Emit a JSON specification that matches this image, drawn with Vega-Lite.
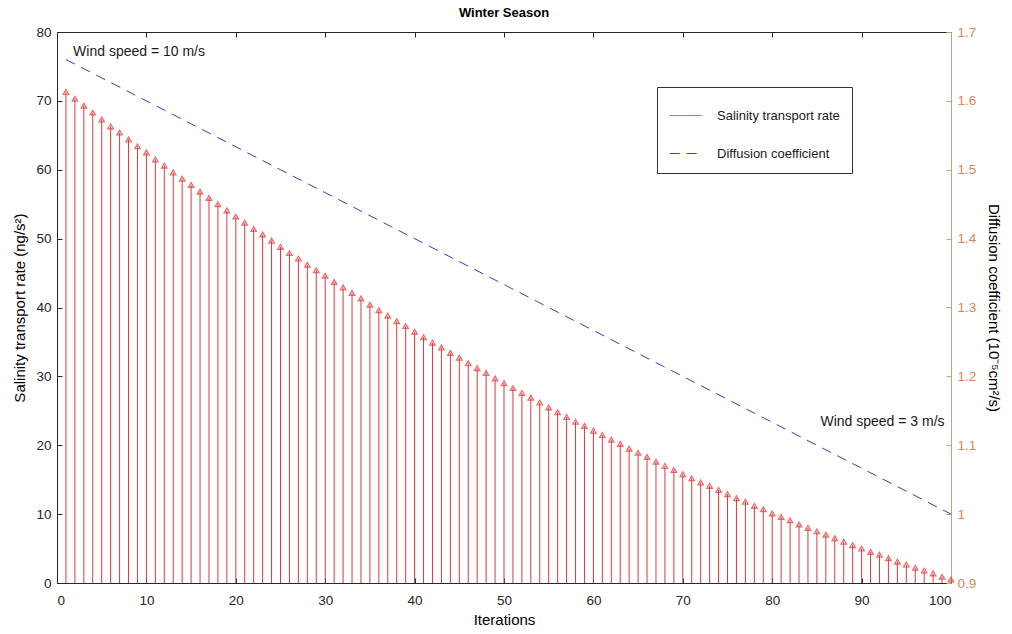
{
  "$schema": "https://vega.github.io/schema/vega-lite/v6.json",
  "width": 894,
  "height": 551,
  "autosize": "none",
  "padding": {"left": 57, "top": 32, "right": 61, "bottom": 51},
  "background": "white",
  "config": {
    "font": "Liberation Sans",
    "view": {"stroke": "#262626", "strokeWidth": 1},
    "axis": {"grid": false, "labelFontSize": 13.5, "titleFontSize": 15, "titleFontWeight": "normal", "labelColor": "#262626", "titleColor": "#000000", "domainColor": "#262626", "tickColor": "#262626", "tickSize": -5, "labelPadding": 11}
  },
  "title": {"text": "Winter Season", "fontSize": 13, "fontWeight": "bold", "color": "#000000", "offset": 5, "font": "Liberation Sans"},
  "datasets": {
    "stems": [
      {"it":1,"v":71.3,"series":"Salinity transport rate"},{"it":2,"v":70.3,"series":"Salinity transport rate"},{"it":3,"v":69.3,"series":"Salinity transport rate"},{"it":4,"v":68.3,"series":"Salinity transport rate"},{"it":5,"v":67.3,"series":"Salinity transport rate"},
      {"it":6,"v":66.3,"series":"Salinity transport rate"},{"it":7,"v":65.4,"series":"Salinity transport rate"},{"it":8,"v":64.4,"series":"Salinity transport rate"},{"it":9,"v":63.4,"series":"Salinity transport rate"},{"it":10,"v":62.5,"series":"Salinity transport rate"},
      {"it":11,"v":61.5,"series":"Salinity transport rate"},{"it":12,"v":60.6,"series":"Salinity transport rate"},{"it":13,"v":59.6,"series":"Salinity transport rate"},{"it":14,"v":58.7,"series":"Salinity transport rate"},{"it":15,"v":57.8,"series":"Salinity transport rate"},
      {"it":16,"v":56.8,"series":"Salinity transport rate"},{"it":17,"v":55.9,"series":"Salinity transport rate"},{"it":18,"v":55.0,"series":"Salinity transport rate"},{"it":19,"v":54.1,"series":"Salinity transport rate"},{"it":20,"v":53.2,"series":"Salinity transport rate"},
      {"it":21,"v":52.3,"series":"Salinity transport rate"},{"it":22,"v":51.4,"series":"Salinity transport rate"},{"it":23,"v":50.6,"series":"Salinity transport rate"},{"it":24,"v":49.7,"series":"Salinity transport rate"},{"it":25,"v":48.8,"series":"Salinity transport rate"},
      {"it":26,"v":47.9,"series":"Salinity transport rate"},{"it":27,"v":47.1,"series":"Salinity transport rate"},{"it":28,"v":46.2,"series":"Salinity transport rate"},{"it":29,"v":45.4,"series":"Salinity transport rate"},{"it":30,"v":44.6,"series":"Salinity transport rate"},
      {"it":31,"v":43.7,"series":"Salinity transport rate"},{"it":32,"v":42.9,"series":"Salinity transport rate"},{"it":33,"v":42.1,"series":"Salinity transport rate"},{"it":34,"v":41.3,"series":"Salinity transport rate"},{"it":35,"v":40.4,"series":"Salinity transport rate"},
      {"it":36,"v":39.6,"series":"Salinity transport rate"},{"it":37,"v":38.8,"series":"Salinity transport rate"},{"it":38,"v":38.0,"series":"Salinity transport rate"},{"it":39,"v":37.3,"series":"Salinity transport rate"},{"it":40,"v":36.5,"series":"Salinity transport rate"},
      {"it":41,"v":35.7,"series":"Salinity transport rate"},{"it":42,"v":34.9,"series":"Salinity transport rate"},{"it":43,"v":34.2,"series":"Salinity transport rate"},{"it":44,"v":33.4,"series":"Salinity transport rate"},{"it":45,"v":32.7,"series":"Salinity transport rate"},
      {"it":46,"v":31.9,"series":"Salinity transport rate"},{"it":47,"v":31.2,"series":"Salinity transport rate"},{"it":48,"v":30.5,"series":"Salinity transport rate"},{"it":49,"v":29.7,"series":"Salinity transport rate"},{"it":50,"v":29.0,"series":"Salinity transport rate"},
      {"it":51,"v":28.3,"series":"Salinity transport rate"},{"it":52,"v":27.6,"series":"Salinity transport rate"},{"it":53,"v":26.9,"series":"Salinity transport rate"},{"it":54,"v":26.2,"series":"Salinity transport rate"},{"it":55,"v":25.5,"series":"Salinity transport rate"},
      {"it":56,"v":24.8,"series":"Salinity transport rate"},{"it":57,"v":24.1,"series":"Salinity transport rate"},{"it":58,"v":23.4,"series":"Salinity transport rate"},{"it":59,"v":22.8,"series":"Salinity transport rate"},{"it":60,"v":22.1,"series":"Salinity transport rate"},
      {"it":61,"v":21.5,"series":"Salinity transport rate"},{"it":62,"v":20.8,"series":"Salinity transport rate"},{"it":63,"v":20.2,"series":"Salinity transport rate"},{"it":64,"v":19.5,"series":"Salinity transport rate"},{"it":65,"v":18.9,"series":"Salinity transport rate"},
      {"it":66,"v":18.3,"series":"Salinity transport rate"},{"it":67,"v":17.6,"series":"Salinity transport rate"},{"it":68,"v":17.0,"series":"Salinity transport rate"},{"it":69,"v":16.4,"series":"Salinity transport rate"},{"it":70,"v":15.8,"series":"Salinity transport rate"},
      {"it":71,"v":15.2,"series":"Salinity transport rate"},{"it":72,"v":14.6,"series":"Salinity transport rate"},{"it":73,"v":14.1,"series":"Salinity transport rate"},{"it":74,"v":13.5,"series":"Salinity transport rate"},{"it":75,"v":12.9,"series":"Salinity transport rate"},
      {"it":76,"v":12.3,"series":"Salinity transport rate"},{"it":77,"v":11.8,"series":"Salinity transport rate"},{"it":78,"v":11.2,"series":"Salinity transport rate"},{"it":79,"v":10.7,"series":"Salinity transport rate"},{"it":80,"v":10.1,"series":"Salinity transport rate"},
      {"it":81,"v":9.6,"series":"Salinity transport rate"},{"it":82,"v":9.1,"series":"Salinity transport rate"},{"it":83,"v":8.5,"series":"Salinity transport rate"},{"it":84,"v":8.0,"series":"Salinity transport rate"},{"it":85,"v":7.5,"series":"Salinity transport rate"},
      {"it":86,"v":7.0,"series":"Salinity transport rate"},{"it":87,"v":6.5,"series":"Salinity transport rate"},{"it":88,"v":6.0,"series":"Salinity transport rate"},{"it":89,"v":5.5,"series":"Salinity transport rate"},{"it":90,"v":5.0,"series":"Salinity transport rate"},
      {"it":91,"v":4.5,"series":"Salinity transport rate"},{"it":92,"v":4.1,"series":"Salinity transport rate"},{"it":93,"v":3.6,"series":"Salinity transport rate"},{"it":94,"v":3.1,"series":"Salinity transport rate"},{"it":95,"v":2.7,"series":"Salinity transport rate"},
      {"it":96,"v":2.2,"series":"Salinity transport rate"},{"it":97,"v":1.8,"series":"Salinity transport rate"},{"it":98,"v":1.4,"series":"Salinity transport rate"},{"it":99,"v":0.9,"series":"Salinity transport rate"},{"it":100,"v":0.5,"series":"Salinity transport rate"}
    ],
    "diff": [
      {"it":1,"d":1.66,"series":"Diffusion coefficient"},
      {"it":100,"d":1.0,"series":"Diffusion coefficient"}
    ],
    "notes": [
      {"it":1.8,"v":77.1,"label":"Wind speed = 10 m/s"},
      {"it":85.4,"v":23.4,"label":"Wind speed = 3 m/s"}
    ]
  },
  "resolve": {"scale": {"y": "independent"}, "axis": {"x": "independent"}},
  "layer": [
    {
      "layer": [
        {
          "data": {"name": "stems"},
          "mark": {"type": "rule", "strokeWidth": 1},
          "encoding": {
            "x": {"field": "it", "type": "quantitative", "scale": {"domain": [0, 100], "nice": false}, "axis": {"title": "Iterations", "values": [0,10,20,30,40,50,60,70,80,90,100], "titlePadding": 6, "labelPadding": 15}},
            "y": {"field": "v", "type": "quantitative", "scale": {"domain": [0, 80], "nice": false}, "axis": {"title": "Salinity transport rate (ng/s²)", "values": [0,10,20,30,40,50,60,70,80], "titlePadding": 8}},
            "y2": {"datum": 0},
            "color": {"field": "series", "type": "nominal", "scale": {"domain": ["Salinity transport rate", "Diffusion coefficient"], "range": ["#d83c3c", "#3a3ac6"]}, "legend": {"title": null, "orient": "none", "legendX": 600, "legendY": 55, "symbolType": "stroke", "symbolSize": 1000, "symbolStrokeWidth": 1, "labelFontSize": 13, "labelColor": "#1a1a1a", "strokeColor": "#333333", "fillColor": "white", "padding": 12, "rowPadding": 14, "labelOffset": 15}}
          }
        },
        {
          "data": {"name": "stems"},
          "mark": {"type": "point", "shape": "triangle-up", "filled": false, "size": 30, "strokeWidth": 1.3, "color": "#e03434"},
          "encoding": {
            "x": {"field": "it", "type": "quantitative"},
            "y": {"field": "v", "type": "quantitative"}
          }
        },
        {
          "data": {"name": "notes"},
          "mark": {"type": "text", "align": "left", "baseline": "middle", "fontSize": 14, "color": "#1a1a1a"},
          "encoding": {
            "x": {"field": "it", "type": "quantitative"},
            "y": {"field": "v", "type": "quantitative"},
            "text": {"field": "label"}
          }
        }
      ]
    },
    {
      "data": {"name": "diff"},
      "mark": {"type": "line", "strokeWidth": 1, "strokeDash": [10, 7]},
      "encoding": {
        "x": {"field": "it", "type": "quantitative", "axis": {"orient": "top", "labels": false, "title": null, "domain": false, "values": [0,10,20,30,40,50,60,70,80,90,100]}},
        "y": {"field": "d", "type": "quantitative", "scale": {"domain": [0.9, 1.7], "nice": false}, "axis": {"orient": "right", "title": "Diffusion coefficient (10⁻⁵cm²/s)", "values": [0.9,1.0,1.1,1.2,1.3,1.4,1.5,1.6,1.7], "format": "~g", "labelColor": "#d4875a", "domainColor": "#c9a27c", "tickColor": "#c9a27c", "titlePadding": 10}},
        "color": {"field": "series", "type": "nominal", "legend": {"title": null, "orient": "none", "legendX": 600, "legendY": 55, "symbolType": "stroke", "symbolSize": 1000, "symbolStrokeWidth": 1, "labelFontSize": 13, "labelColor": "#1a1a1a", "strokeColor": "#333333", "fillColor": "white", "padding": 12, "rowPadding": 14, "labelOffset": 15}},
        "strokeDash": {"field": "series", "type": "nominal", "scale": {"domain": ["Salinity transport rate", "Diffusion coefficient"], "range": [[1, 0], [10, 7]]}, "legend": {"title": null, "orient": "none", "legendX": 600, "legendY": 55, "symbolType": "stroke", "symbolSize": 1000, "symbolStrokeWidth": 1, "labelFontSize": 13, "labelColor": "#1a1a1a", "strokeColor": "#333333", "fillColor": "white", "padding": 12, "rowPadding": 14, "labelOffset": 15}}
      }
    }
  ]
}
